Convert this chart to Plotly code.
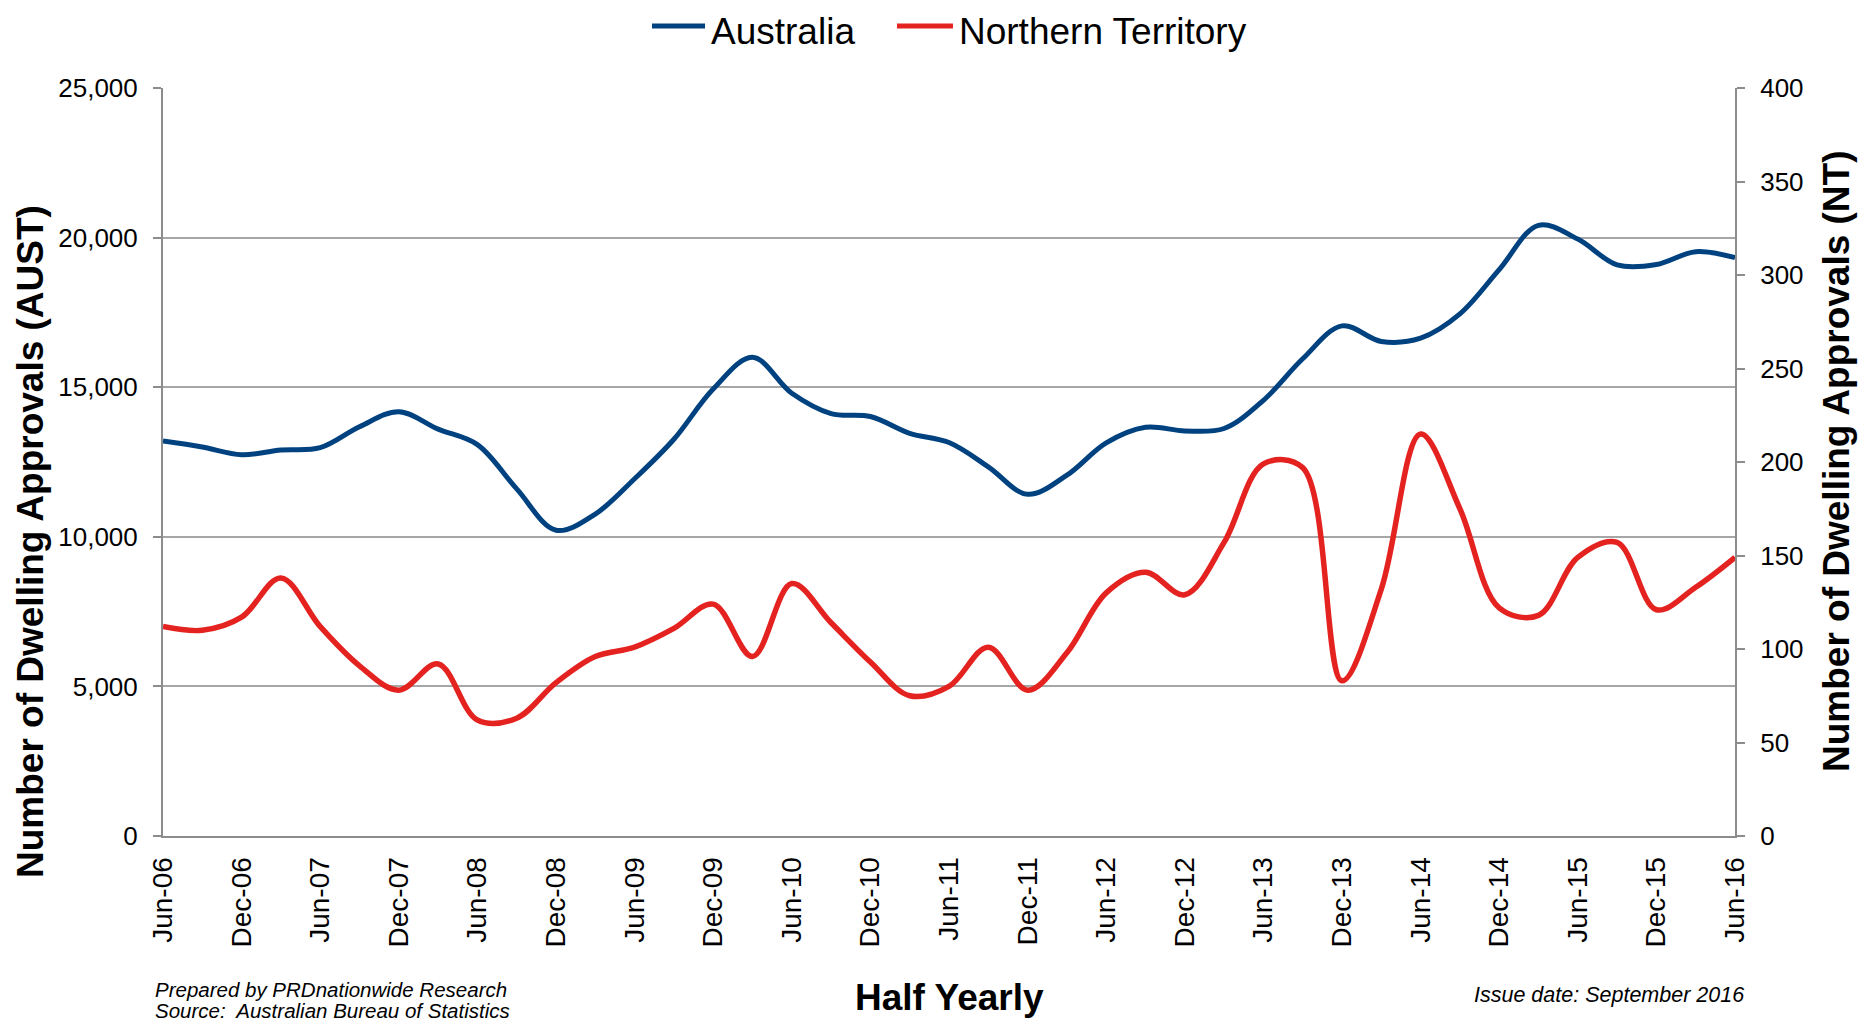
import plotly.graph_objects as go

# Quarterly periods (x categories)
quarters = [
    "Jun-06", "Sep-06", "Dec-06", "Mar-07", "Jun-07", "Sep-07", "Dec-07", "Mar-08",
    "Jun-08", "Sep-08", "Dec-08", "Mar-09", "Jun-09", "Sep-09", "Dec-09", "Mar-10",
    "Jun-10", "Sep-10", "Dec-10", "Mar-11", "Jun-11", "Sep-11", "Dec-11", "Mar-12",
    "Jun-12", "Sep-12", "Dec-12", "Mar-13", "Jun-13", "Sep-13", "Dec-13", "Mar-14",
    "Jun-14", "Sep-14", "Dec-14", "Mar-15", "Jun-15", "Sep-15", "Dec-15", "Mar-16",
    "Jun-16",
]

# Half-yearly tick labels
tick_labels = [
    "Jun-06", "Dec-06", "Jun-07", "Dec-07", "Jun-08", "Dec-08", "Jun-09", "Dec-09",
    "Jun-10", "Dec-10", "Jun-11", "Dec-11", "Jun-12", "Dec-12", "Jun-13", "Dec-13",
    "Jun-14", "Dec-14", "Jun-15", "Dec-15", "Jun-16",
]

# Number of dwelling approvals - Australia (left axis)
australia = [
    13200, 13000, 12740, 12900, 12980, 13680, 14180, 13600,
    13080, 11600, 10220, 10760, 11940, 13260, 14940, 16000,
    14800, 14120, 14020, 13460, 13150, 12340, 11420, 12060,
    13140, 13660, 13540, 13620, 14560, 15950, 17050, 16530,
    16640, 17450, 18930, 20410, 19950, 19090, 19100, 19530,
    19330,
]

# Number of dwelling approvals - Northern Territory (right axis)
northern_territory = [
    112, 110, 117, 138, 112, 91, 78, 92,
    62, 63, 82, 96, 101, 111, 124, 96,
    135, 114, 93, 75, 80, 101, 78, 98,
    130, 141, 129, 157, 199, 197, 83, 132,
    215, 175, 122, 118, 149, 157, 121, 133,
    149,
]

series_names = ["Australia", "Northern Territory"]
series_colors = ["#00427F", "#E42320"]

left_ticks = [0, 5000, 10000, 15000, 20000, 25000]
right_ticks = [0, 50, 100, 150, 200, 250, 300, 350, 400]

FONT = "Liberation Sans, Arial, sans-serif"
AXIS_GREY = "#8c8c8c"
GRID_GREY = "#a6a6a6"

# The page body adds an 8px offset; the figure is sized so the plot area
# lands at page pixels x 163-1735, y 88-836.
OFF = 8
FIG_W, FIG_H = 1875 - OFF, 1022 - OFF
PLOT_L, PLOT_R, PLOT_T, PLOT_B = 163, 1735, 88, 836


def px_x(x_page):
    return (x_page - PLOT_L) / (PLOT_R - PLOT_L)


def px_y(y_page):
    return (PLOT_B - y_page) / (PLOT_B - PLOT_T)


fig = go.Figure()
fig.add_trace(go.Scatter(
    x=quarters, y=australia, name=series_names[0], mode="lines",
    line=dict(color=series_colors[0], width=5, shape="spline", smoothing=1.0),
    yaxis="y", showlegend=False,
))
fig.add_trace(go.Scatter(
    x=quarters, y=northern_territory, name=series_names[1], mode="lines",
    line=dict(color=series_colors[1], width=5.5, shape="spline", smoothing=1.0),
    yaxis="y2", showlegend=False,
))

fig.update_layout(
    width=FIG_W, height=FIG_H,
    margin=dict(l=PLOT_L - OFF, r=FIG_W - (PLOT_R - OFF), t=PLOT_T - OFF,
                b=FIG_H - (PLOT_B - OFF), autoexpand=False),
    paper_bgcolor="white", plot_bgcolor="white",
    font=dict(family=FONT, color="black"),
    xaxis=dict(
        type="category", range=[0, len(quarters) - 1],
        tickvals=tick_labels, ticktext=tick_labels,
        tickangle=-90, tickfont=dict(size=28, family=FONT, color="black"),
        ticks="", showgrid=False, showline=True,
        linecolor=AXIS_GREY, linewidth=2, ticklabelstandoff=8,
    ),
    yaxis=dict(
        range=[0, 25000], tickvals=left_ticks, tickformat=",",
        tickfont=dict(size=26, family=FONT, color="black"),
        showgrid=True, gridcolor=GRID_GREY, gridwidth=2,
        showline=True, linecolor=AXIS_GREY, linewidth=2,
        ticks="outside", ticklen=8, tickcolor=AXIS_GREY, tickwidth=2,
        zeroline=False, ticklabelstandoff=10,
    ),
    yaxis2=dict(
        range=[0, 400], tickvals=right_ticks, overlaying="y", side="right",
        tickfont=dict(size=26, family=FONT, color="black"),
        showgrid=False, showline=True, linecolor=AXIS_GREY, linewidth=2,
        ticks="outside", ticklen=8, tickcolor=AXIS_GREY, tickwidth=2,
        zeroline=False, ticklabelstandoff=10,
    ),
)

# Legend (line sample + label) drawn above the plot, as in the reference
legend_line_x = [(652, 705), (897, 953)]
legend_text_x = [709, 957]
shapes = []
annotations = []
for name, color, (x0, x1), tx in zip(series_names, series_colors, legend_line_x, legend_text_x):
    shapes.append(dict(type="line", xref="paper", yref="paper",
                       x0=px_x(x0), x1=px_x(x1), y0=px_y(26), y1=px_y(26),
                       line=dict(color=color, width=5)))
    annotations.append(dict(text=name, x=px_x(tx), y=px_y(OFF + 1), xref="paper", yref="paper",
                            showarrow=False, xanchor="left", yanchor="top",
                            font=dict(size=37, family=FONT, color="black")))

annotations += [
    dict(text="<b>Number of Dwelling Approvals (AUST)</b>", x=px_x(30), y=px_y(542),
         xref="paper", yref="paper", textangle=-90, showarrow=False,
         font=dict(size=37, family=FONT, color="black"),
         xanchor="center", yanchor="middle"),
    dict(text="<b>Number of Dwelling Approvals (NT)</b>", x=px_x(1836), y=px_y(462),
         xref="paper", yref="paper", textangle=-90, showarrow=False,
         font=dict(size=37, family=FONT, color="black"),
         xanchor="center", yanchor="middle"),
    dict(text="<b>Half Yearly</b>", x=0.5, y=px_y(997),
         xref="paper", yref="paper", showarrow=False,
         font=dict(size=37, family=FONT, color="black"),
         xanchor="center", yanchor="middle"),
    dict(text="<i>Prepared by PRDnationwide Research</i>", x=px_x(153), y=px_y(989),
         xref="paper", yref="paper", showarrow=False,
         font=dict(size=20.5, family=FONT, color="black"),
         xanchor="left", yanchor="middle"),
    dict(text="<i>Source:  Australian Bureau of Statistics</i>", x=px_x(153), y=px_y(1010),
         xref="paper", yref="paper", showarrow=False,
         font=dict(size=20.5, family=FONT, color="black"),
         xanchor="left", yanchor="middle"),
    dict(text="<i>Issue date: September 2016</i>", x=px_x(1746), y=px_y(995),
         xref="paper", yref="paper", showarrow=False,
         font=dict(size=21.5, family=FONT, color="black"),
         xanchor="right", yanchor="middle"),
]
fig.update_layout(shapes=shapes, annotations=annotations)

fig.write_html("out.html")
